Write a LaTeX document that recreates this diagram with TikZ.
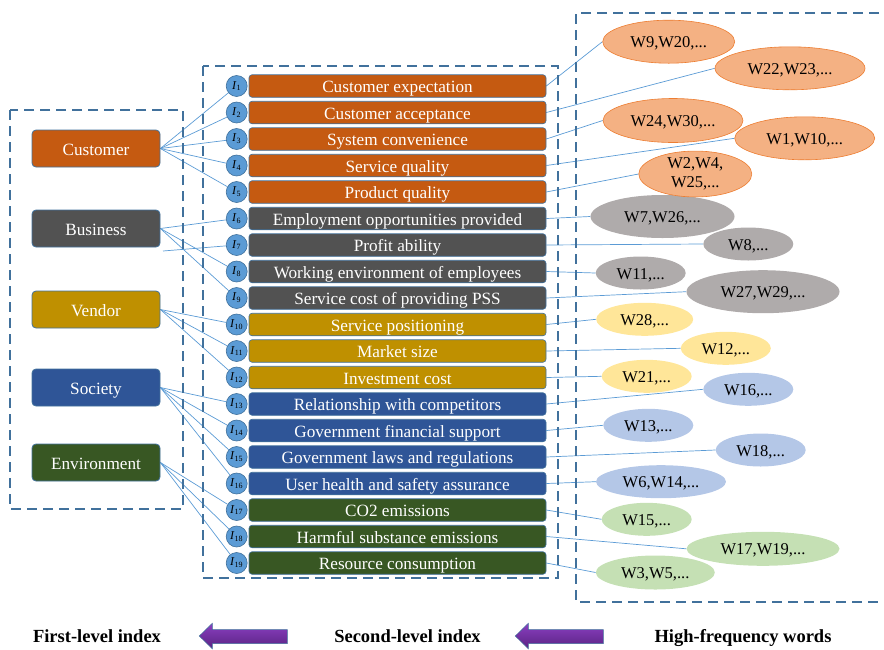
\documentclass[tikz,border=0pt]{standalone}
\usepackage{fontspec}
\setmainfont{Liberation Serif}
\usetikzlibrary{shapes.geometric,backgrounds}
\definecolor{cust}{HTML}{C55A11}
\definecolor{busi}{HTML}{525252}
\definecolor{vend}{HTML}{BF9000}
\definecolor{soci}{HTML}{2F5597}
\definecolor{envi}{HTML}{385723}
\definecolor{edgec}{HTML}{41719C}
\definecolor{connc}{HTML}{5B9BD5}
\definecolor{dashc}{HTML}{41719C}
\definecolor{eor}{HTML}{F4B183}
\definecolor{eorb}{HTML}{ED7D31}
\definecolor{egr}{HTML}{AFABAB}
\definecolor{eye}{HTML}{FFE699}
\definecolor{ebl}{HTML}{B4C7E7}
\definecolor{egn}{HTML}{C5E0B4}
\definecolor{arrtop}{HTML}{8A3FC0}
\definecolor{arrbot}{HTML}{5A2383}
\tikzset{
  dashbox/.style={draw=dashc, line width=1.8pt, dash pattern=on 10pt off 6pt},
  catbox/.style={draw=edgec, line width=0.8pt, rounded corners=4pt, minimum width=128pt, minimum height=37pt, inner sep=0pt, text height=15pt, text depth=2pt, text=white, font=\fontsize{17.2}{20}\selectfont},
  idxbox/.style={draw=edgec, line width=0.6pt, rounded corners=3pt, minimum width=297pt, minimum height=22.5pt, inner sep=0pt, text height=15pt, text depth=2pt, text=white, font=\fontsize{17.2}{20}\selectfont},
  circ/.style={circle, fill=connc, draw=edgec, line width=0.6pt, minimum size=21pt, inner sep=0pt, font=\fontsize{12}{12}\selectfont},
  ellbase/.style={ellipse, inner sep=0pt, align=center, font=\fontsize{16.5}{19}\selectfont},
  ell/.style={ellbase, text height=14pt, text depth=2pt},
  ellor/.style={ell, fill=eor, draw=eorb, line width=0.6pt},
  ellgr/.style={ell, fill=egr},
  ellye/.style={ell, fill=eye},
  ellbl/.style={ell, fill=ebl},
  ellgn/.style={ell, fill=egn},
  conn/.style={draw=connc, line width=0.7pt},
  lbl/.style={anchor=base, font=\fontsize{18.5}{20}\selectfont\bfseries},
  bigarrow/.style={draw=edgec, line width=0.5pt, top color=arrtop, bottom color=arrbot}
}
\begin{document}
\begin{tikzpicture}[x=1pt,y=-1pt]
\useasboundingbox (0,0) rectangle (884,649);
% dashed frames
\draw[dashbox] (10,110) rectangle (183,509);
\draw[dashbox] (203,66) rectangle (558,578);
\draw[dashbox] (895,13) -- (576,13) -- (576,602) -- (895,602);
% first-level
\node[catbox, fill=cust] (cat1) at (96,148.5) {Customer};
\node[catbox, fill=busi] (cat2) at (96,228.5) {Business};
\node[catbox, fill=vend] (cat3) at (96,309.5) {Vendor};
\node[catbox, fill=soci] (cat4) at (96,387.5) {Society};
\node[catbox, fill=envi] (cat5) at (96,462.5) {Environment};
% second-level
\foreach \k/\t/\c in {1/Customer expectation/cust, 2/Customer acceptance/cust, 3/System convenience/cust, 4/Service quality/cust, 5/Product quality/cust, 6/Employment opportunities provided/busi, 7/Profit ability/busi, 8/Working environment of employees/busi, 9/Service cost of providing PSS/busi, 10/Service positioning/vend, 11/Market size/vend, 12/Investment cost/vend, 13/Relationship with competitors/soci, 14/Government financial support/soci, 15/Government laws and regulations/soci, 16/User health and safety assurance/soci, 17/CO2 emissions/envi, 18/Harmful substance emissions/envi, 19/Resource consumption/envi}{
  \node[idxbox, fill=\c] (i\k) at (397.5,{86+(\k-1)*26.5}) {\t};
  \node[circ] (c\k) at (236.7,{86+(\k-1)*26.5}) {\textit{I}\textsubscript{\k}};
}
% high-frequency words
\node[ellor, minimum width=132pt, minimum height=43pt] (w1) at (668.7,41.7) {W9,W20,...};
\node[ellor, minimum width=150pt, minimum height=43pt] (w2) at (790,68.3) {W22,W23,...};
\node[ellor, minimum width=140pt, minimum height=44pt] (w3) at (673,120.5) {W24,W30,...};
\node[ellor, minimum width=140pt, minimum height=43pt] (w4) at (804.7,138.3) {W1,W10,...};
\node[ellgr, minimum width=144pt, minimum height=43pt] (w6) at (662.5,216.5) {W7,W26,...};
\node[ellbase, fill=eor, draw=eorb, line width=0.6pt, minimum width=113pt, minimum height=45pt] (w5) at (695.3,174) {W2,W4,\\W25,...};
\node[ellgr, minimum width=90pt, minimum height=33pt] (w7) at (748.3,244) {W8,...};
\node[ellgr, minimum width=90pt, minimum height=33pt] (w8) at (640.7,273) {W11,...};
\node[ellgr, minimum width=153pt, minimum height=43pt] (w9) at (763,291.7) {W27,W29,...};
\node[ellye, minimum width=97pt, minimum height=33pt] (w10) at (644.7,319.3) {W28,...};
\node[ellye, minimum width=90pt, minimum height=33pt] (w11) at (725.8,348.3) {W12,...};
\node[ellye, minimum width=90pt, minimum height=33pt] (w12) at (646.7,376.3) {W21,...};
\node[ellbl, minimum width=90pt, minimum height=33pt] (w13) at (748.3,389.3) {W16,...};
\node[ellbl, minimum width=90pt, minimum height=33pt] (w14) at (648.3,425.3) {W13,...};
\node[ellbl, minimum width=90pt, minimum height=33pt] (w15) at (760.7,450) {W18,...};
\node[ellbl, minimum width=130pt, minimum height=33pt] (w16) at (661,481.7) {W6,W14,...};
\node[ellgn, minimum width=90pt, minimum height=33pt] (w17) at (646.7,519.3) {W15,...};
\node[ellgn, minimum width=153pt, minimum height=34pt] (w18) at (763,548.8) {W17,W19,...};
\node[ellgn, minimum width=119pt, minimum height=34pt] (w19) at (655.3,572.5) {W3,W5,...};
% connectors
\coordinate (free7) at (163,251);
\begin{scope}[on background layer]
\foreach \k in {1,...,5} \draw[conn] (cat1.east) -- (c\k);
\foreach \k in {6,8,9} \draw[conn] (cat2.east) -- (c\k);
\draw[conn] (free7) -- (c7);
\foreach \k in {10,11,12} \draw[conn] (cat3.east) -- (c\k);
\foreach \k in {13,...,16} \draw[conn] (cat4.east) -- (c\k);
\foreach \k in {17,18,19} \draw[conn] (cat5.east) -- (c\k);
\foreach \k in {1,...,19} \draw[conn] (i\k.east) -- (w\k.west);
\end{scope}
% legend
\node[lbl] (l1) at (97,642) {First-level index};
\node[lbl] (l2) at (407.5,642) {Second-level index};
\node[lbl] (l3) at (743,642) {High-frequency words};
\draw[bigarrow] (199.3,636) -- (212.3,623.3) -- (212.3,629.5) -- (287.3,629.5) -- (287.3,643.5) -- (212.3,643.5) -- (212.3,648.7) -- cycle;
\draw[bigarrow] (515.3,636) -- (528.3,623.3) -- (528.3,629.5) -- (603.3,629.5) -- (603.3,643.5) -- (528.3,643.5) -- (528.3,648.7) -- cycle;
\end{tikzpicture}
\end{document}
